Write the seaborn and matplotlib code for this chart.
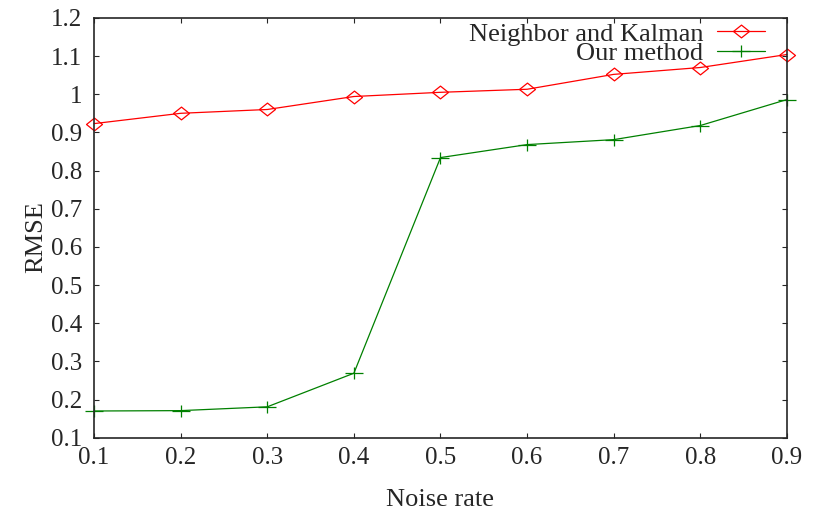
import numpy as np
import pandas as pd
import matplotlib
matplotlib.use("Agg")
import matplotlib.pyplot as plt
import seaborn as sns
from matplotlib.lines import Line2D
from matplotlib.path import Path

noise_rate = [0.1, 0.2, 0.3, 0.4, 0.5, 0.6, 0.7, 0.8, 0.9]
rmse_kalman = [0.923, 0.950, 0.960, 0.994, 1.005, 1.013, 1.052, 1.070, 1.104]
rmse_ours = [0.170, 0.171, 0.181, 0.269, 0.834, 0.868, 0.881, 0.918, 0.986]
series_names = ["Neighbor and Kalman", "Our method"]

sns.set_style("ticks")
plt.rcParams["font.family"] = ["Liberation Serif", "DejaVu Serif"]

# gnuplot style point shapes (slightly flattened)
diamond = Path([(-1, 0), (0, 0.8), (1, 0), (0, -0.8), (-1, 0)],
               [Path.MOVETO, Path.LINETO, Path.LINETO, Path.LINETO, Path.CLOSEPOLY])
plus = Path([(-1, 0), (1, 0), (0, -0.7), (0, 0.7)],
            [Path.MOVETO, Path.LINETO, Path.MOVETO, Path.LINETO])

red = "#ff0000"
green = "#008000"
mk_red = dict(marker=diamond, markerfacecolor="none", markeredgecolor=red,
              markeredgewidth=0.9, markersize=11.5)
mk_green = dict(marker=plus, markerfacecolor="none", markeredgecolor=green,
                markeredgewidth=0.9, markersize=12.5)

fig = plt.figure(figsize=(8.18, 5.11), dpi=100)
ax = fig.add_axes([0.115, 0.1434, 0.847, 0.8216])

# two separate calls: seaborn won't mix filled and line-art markers in one
sns.lineplot(x=noise_rate, y=rmse_kalman, color=red, linewidth=0.9, ax=ax, **mk_red)
sns.lineplot(x=noise_rate, y=rmse_ours, color=green, linewidth=0.9, ax=ax, **mk_green)
for l in ax.get_lines():
    l.set_clip_on(False)

ax.set_xlim(0.1, 0.9)
ax.set_ylim(0.1, 1.2)
ax.set_xticks(noise_rate)
ax.set_xticklabels([f"{v:g}" for v in noise_rate])
yt = [0.1, 0.2, 0.3, 0.4, 0.5, 0.6, 0.7, 0.8, 0.9, 1.0, 1.1, 1.2]
ax.set_yticks(yt)
ax.set_yticklabels([f"{v:g}" for v in yt])
ax.tick_params(direction="in", top=True, right=True, length=3.5, width=0.8,
               labelsize=18)
ax.tick_params(axis="x", pad=6.5)
ax.tick_params(axis="y", pad=8.5)
for s in ax.spines.values():
    s.set_linewidth(1.2)
ax.set_xlabel("Noise rate", fontsize=19)
ax.set_ylabel("RMSE", fontsize=19)
ax.xaxis.set_label_coords(0.5, -0.122)
ax.yaxis.set_label_coords(-0.068, 0.478)

handles = [
    Line2D([], [], color=red, linewidth=0.9, **mk_red),
    Line2D([], [], color=green, linewidth=0.9, **mk_green),
]
ax.legend(handles, series_names, loc="upper right", frameon=False, markerfirst=False,
          fontsize=19, handlelength=1.8, handletextpad=0.52, labelspacing=-0.15,
          borderaxespad=0.0, borderpad=0.0, bbox_to_anchor=(0.968, 0.99))

fig.savefig("out.png", dpi=100)
